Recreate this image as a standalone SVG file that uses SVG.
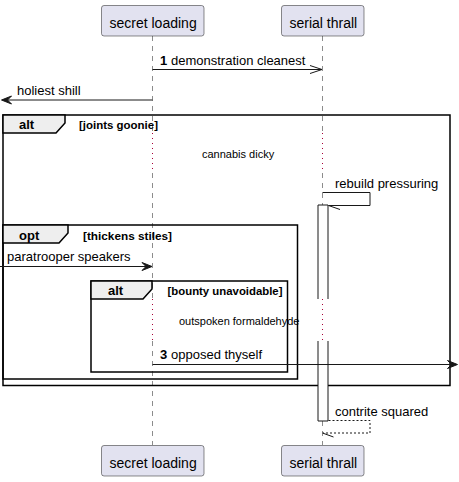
<svg xmlns="http://www.w3.org/2000/svg" width="459" height="482" viewBox="0 0 459 482">
<style>
text{font-family:"Liberation Sans",Arial,sans-serif;fill:#000}
.pt{font-size:14px}
.msg{font-size:13px}
.num{font-size:13px;font-weight:bold}
.glab{font-size:13px;font-weight:bold}
.guard{font-size:11px;font-weight:bold}
.dly{font-size:11px}
.pbox{fill:#E2E2F0;stroke:#181818;stroke-width:0.5}
.life{stroke:#181818;stroke-width:0.5;stroke-dasharray:5,5;fill:none}
.delay{stroke:#A80036;stroke-width:1;stroke-dasharray:1,4;fill:none}
.frame{fill:none;stroke:#000;stroke-width:1.5}
.tab{fill:#EEEEEE;stroke:#000;stroke-width:1.5}
.ln{stroke:#181818;stroke-width:1;fill:none}
.dash{stroke:#181818;stroke-width:1;fill:none;stroke-dasharray:2,2}
.head{fill:#181818;stroke:#181818;stroke-width:1}
.act{fill:#FFFFFF;stroke:none}
</style>
<g id="lifelines">
<line class="life" x1="152.5" y1="36" x2="152.5" y2="133"/>
<line class="delay" x1="152.5" y1="133" x2="152.5" y2="173"/>
<line class="life" x1="152.5" y1="173" x2="152.5" y2="299"/>
<line class="delay" x1="152.5" y1="299" x2="152.5" y2="341"/>
<line class="life" x1="152.5" y1="341" x2="152.5" y2="445"/>
<line class="life" x1="322.5" y1="36" x2="322.5" y2="133"/>
<line class="delay" x1="322.5" y1="133" x2="322.5" y2="173"/>
<line class="life" x1="322.5" y1="173" x2="322.5" y2="205"/>
<line class="delay" x1="322.5" y1="299" x2="322.5" y2="341"/>
<line class="life" x1="322.5" y1="421" x2="322.5" y2="445"/>
</g>
<g id="frames">
<rect class="frame" x="3" y="115" width="447" height="270.5"/>
<polygon class="tab" points="3,115 65,115 65,123 56,133 3,133"/>
<text class="glab" x="19" y="129">alt</text>
<text class="guard" x="79" y="129" textLength="79" lengthAdjust="spacingAndGlyphs">[joints goonie]</text>
<rect class="frame" x="3" y="225" width="294.5" height="154"/>
<polygon class="tab" points="3,225 68,225 68,233 59,243 3,243"/>
<text class="glab" x="19" y="240">opt</text>
<text class="guard" x="83" y="240" textLength="89" lengthAdjust="spacingAndGlyphs">[thickens stiles]</text>
<rect class="frame" x="91" y="281" width="196.5" height="91"/>
<polygon class="tab" points="91,281 152,281 152,289 143,299 91,299"/>
<text class="glab" x="108" y="295">alt</text>
<text class="guard" x="167.5" y="295" textLength="115" lengthAdjust="spacingAndGlyphs">[bounty unavoidable]</text>
</g>
<g id="activation">
<rect class="act" x="318" y="205" width="10" height="94"/>
<rect class="act" x="318" y="341" width="10" height="80"/>
<path class="ln" d="M318,299 V205 H328 V299 M318,341 V421 H328 V341"/>
</g>
<g id="delays">
<text class="dly" x="202" y="158">cannabis dicky</text>
<text class="dly" x="179" y="325">outspoken formaldehyde</text>
</g>
<g id="connectors">
<line class="ln" x1="152.5" y1="69.5" x2="322" y2="69.5"/>
<path class="ln" d="M310,65.5 L322,69.5 L310,73.5"/>
<text class="num" x="160" y="64.5">1</text>
<text class="msg" x="171" y="64.5">demonstration cleanest</text>
<line class="ln" x1="152.5" y1="100" x2="3" y2="100"/>
<polygon class="head" points="1.5,100 11.5,96 7.5,100 11.5,104"/>
<text class="msg" x="17" y="94.5">holiest shill</text>
<path class="ln" d="M322.5,192.5 H370 V205.5 H328.5"/>
<line class="ln" x1="328.5" y1="205.5" x2="340" y2="209.5"/>
<text class="msg" x="335" y="188">rebuild pressuring</text>
<line class="ln" x1="0" y1="266.5" x2="150" y2="266.5"/>
<polygon class="head" points="152,266.5 142,262.5 146,266.5 142,270.5"/>
<text class="msg" x="7" y="261">paratrooper speakers</text>
<line class="ln" x1="152.5" y1="364.5" x2="455" y2="364.5"/>
<polygon class="head" points="457.5,364.5 447.5,360.5 451.5,364.5 447.5,368.5"/>
<text class="num" x="160" y="358.5">3</text>
<text class="msg" x="171" y="358.5">opposed thyself</text>
<path class="dash" d="M328.5,420.5 H370 V433 H323"/>
<line class="ln" x1="322.5" y1="433" x2="333.5" y2="437"/>
<text class="msg" x="335" y="416">contrite squared</text>
</g>
<g id="p-secret-loading">
<rect class="pbox" x="101.5" y="5.5" width="102.5" height="30.5" rx="2.5" ry="2.5"/>
<text class="pt" x="109.5" y="27.5">secret loading</text>
<rect class="pbox" x="101.5" y="445.5" width="102.5" height="30.5" rx="2.5" ry="2.5"/>
<text class="pt" x="109.5" y="467.5">secret loading</text>
</g>
<g id="p-serial-thrall">
<rect class="pbox" x="281.5" y="5.5" width="82.5" height="30.5" rx="2.5" ry="2.5"/>
<text class="pt" x="289.5" y="27.5">serial thrall</text>
<rect class="pbox" x="281.5" y="445.5" width="82.5" height="30.5" rx="2.5" ry="2.5"/>
<text class="pt" x="289.5" y="467.5">serial thrall</text>
</g>
</svg>
